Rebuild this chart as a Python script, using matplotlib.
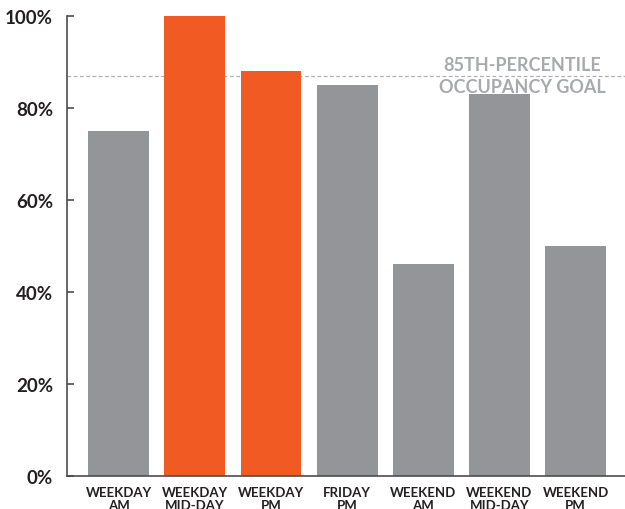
import matplotlib.pyplot as plt

# occupancy by time period
periods = ["WEEKDAY\nAM", "WEEKDAY\nMID-DAY", "WEEKDAY\nPM", "FRIDAY\nPM",
           "WEEKEND\nAM", "WEEKEND\nMID-DAY", "WEEKEND\nPM"]
occupancy = [75, 100, 88, 85, 46, 83, 50]
over_goal = [False, True, True, False, False, False, False]
goal = 87

GRAY = "#939598"
ORANGE = "#F15A22"

plt.rcParams['font.family'] = ['Lato', 'DejaVu Sans']

fig = plt.figure(figsize=(6.25, 5.1), dpi=100)
ax = fig.add_axes([67 / 625, 1 - 477 / 510, (625 - 67) / 625, (477 - 17) / 510])

colors = [ORANGE if o else GRAY for o in over_goal]
ax.bar(range(len(periods)), occupancy, width=0.8, color=colors, zorder=2)

# goal line and its label
ax.axhline(goal, color="#b0b0b0", lw=0.9, ls=(0, (3, 2)), zorder=1)
ax.text(5.3, goal + 0.7, "85TH-PERCENTILE", ha="center", va="bottom",
        fontsize=13, color="#a7a9ac", fontweight="bold")
ax.text(5.3, goal - 0.5, "OCCUPANCY GOAL", ha="center", va="top",
        fontsize=13, color="#a7a9ac", fontweight="bold")

ax.set_xlim(-0.68, 6.65)
ax.set_ylim(0, 100)
ax.set_yticks(range(0, 101, 20))
ax.set_yticklabels([f"{v}%" for v in range(0, 101, 20)], fontsize=13.5,
                   fontweight="bold", color="#231f20")
ax.set_xticks(range(len(periods)))
ax.set_xticklabels(periods, fontsize=9.5, fontweight="bold", color="#231f20",
                   linespacing=1.15, va="top")

for side in ("top", "right"):
    ax.spines[side].set_visible(False)
for side in ("left", "bottom"):
    ax.spines[side].set_color("#4d4d4f")
    ax.spines[side].set_linewidth(1.2)

ax.tick_params(axis="y", direction="in", length=5, width=1.2, color="#4d4d4f", pad=10)
ax.tick_params(axis="x", length=0, pad=7)

fig.savefig("out.png", dpi=100)
